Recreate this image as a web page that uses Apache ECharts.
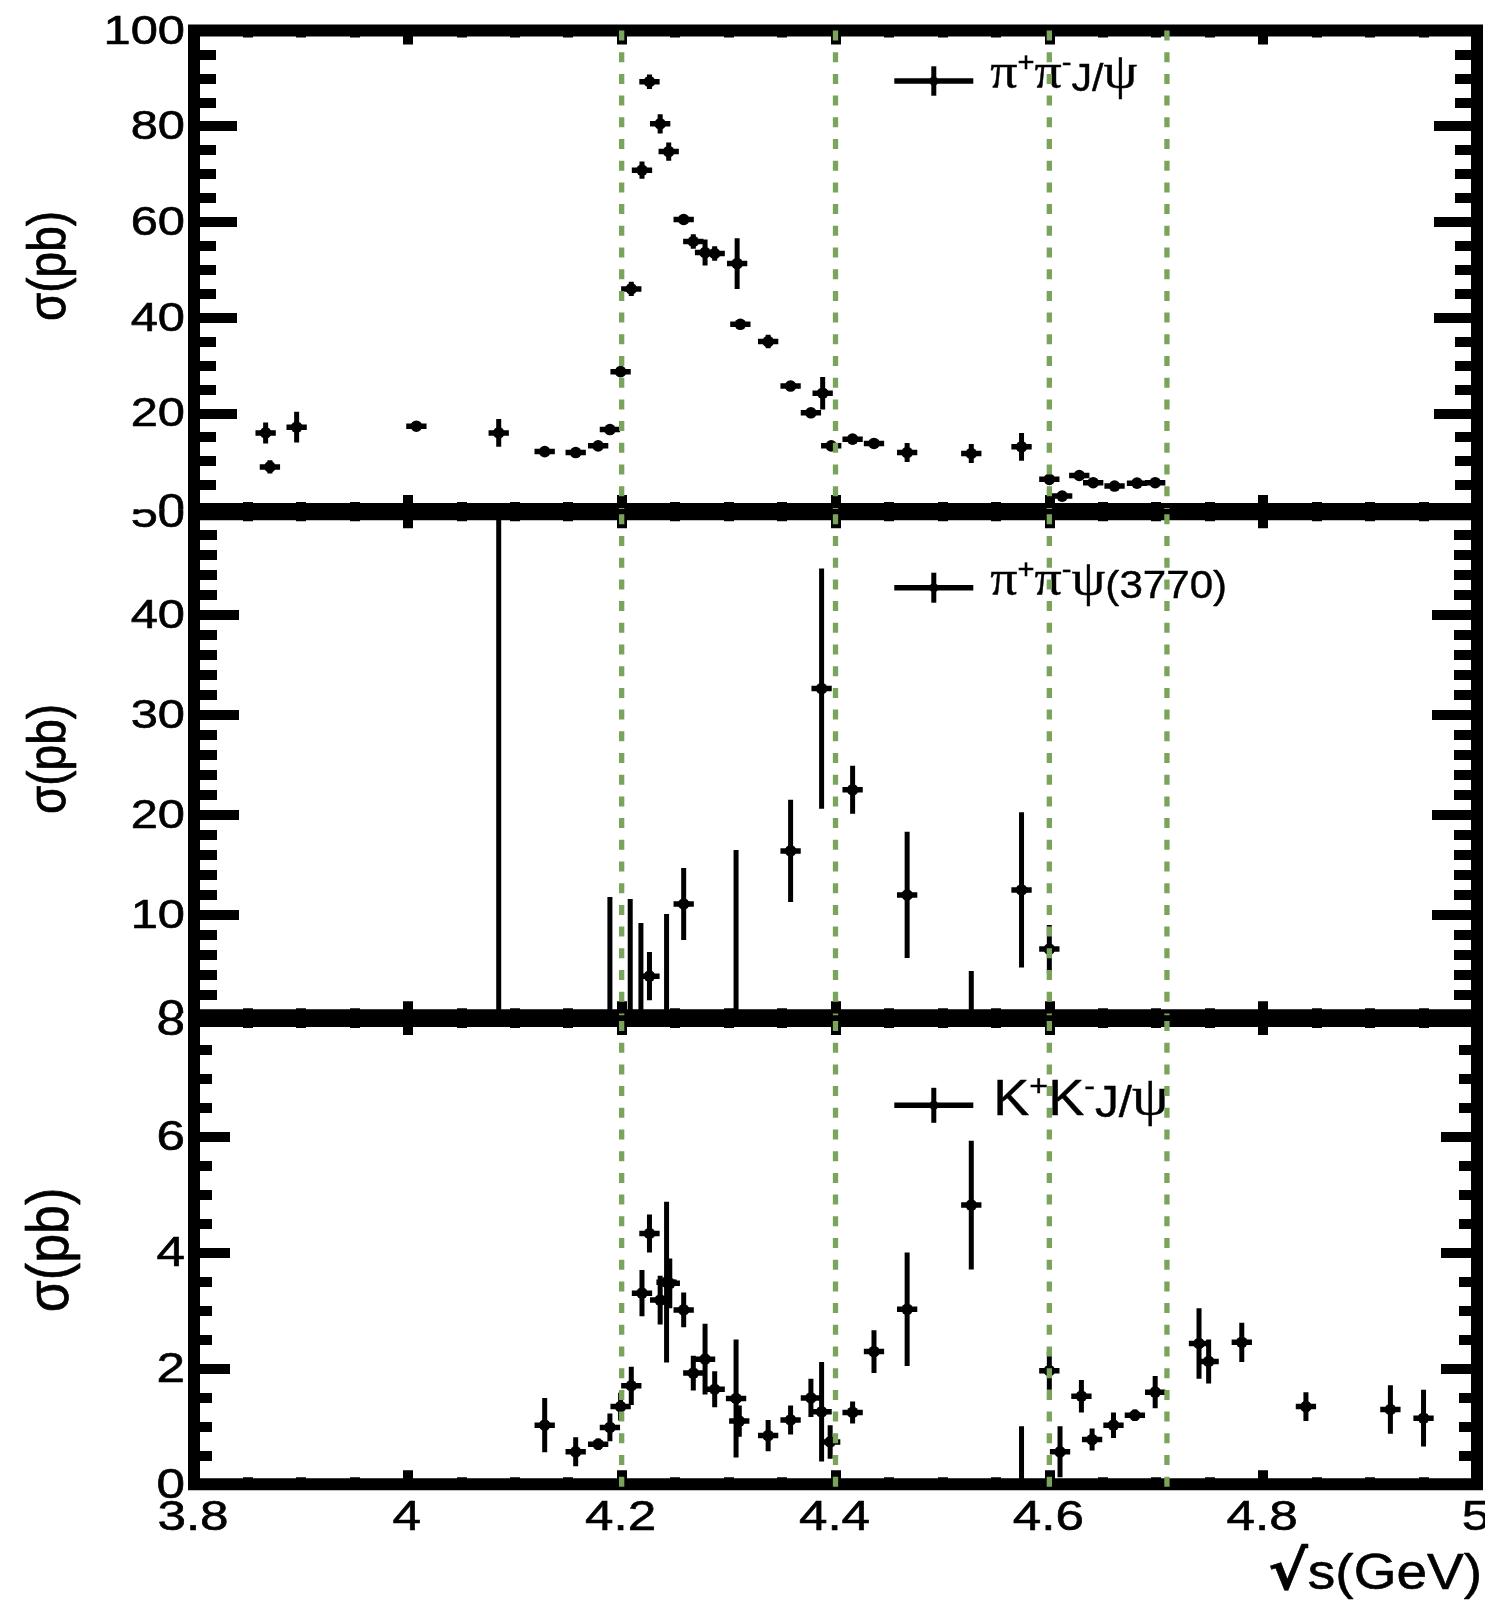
<!DOCTYPE html>
<html>
<head>
<meta charset="utf-8">
<title>Cross sections versus centre-of-mass energy</title>
<script src="https://cdn.jsdelivr.net/npm/echarts@6.0.0/dist/echarts.min.js"></script>
<style>
  html, body { margin: 0; padding: 0; background: #ffffff; }
  #chart { width: 1485px; height: 1602px; }
</style>
</head>
<body>
<div id="chart"></div>
<script>
// ---------------- energy axis ----------------
const energyMin = 3.8;
const energyMax = 5.0;
const energyStep = 0.2;
const energyTicks = [3.8, 4.0, 4.2, 4.4, 4.6, 4.8, 5.0];
const energyTickLabels = ['3.8', '4', '4.2', '4.4', '4.6', '4.8', '5'];
const guideEnergies = [4.2, 4.4, 4.6, 4.71];
const energyHalfWidth = 0.0095;

// ---------------- e+e- -> pi+ pi- J/psi ----------------
const jpsiEnergy = [3.867, 3.871, 3.896, 4.008, 4.085, 4.128, 4.157, 4.178, 4.189, 4.199,
  4.209, 4.219, 4.226, 4.236, 4.244, 4.258, 4.267, 4.278, 4.287, 4.308,
  4.311, 4.337, 4.358, 4.377, 4.388, 4.396, 4.416, 4.436, 4.467, 4.527,
  4.574, 4.600, 4.612, 4.628, 4.641, 4.661, 4.682, 4.699];
const jpsiXsec = [15.9, 8.8, 17.1, 17.3, 15.9, 12.0, 11.8, 13.2, 16.6, 28.7,
  46.0, 70.8, 89.3, 80.5, 74.7, 60.5, 55.9, 53.6, 53.4, 51.3,
  38.6, 35.0, 25.7, 20.1, 24.2, 13.2, 14.6, 13.7, 11.8, 11.6,
  13.0, 6.2, 2.7, 7.0, 5.5, 4.8, 5.4, 5.5];
const jpsiErr = [2.2, 1.4, 3.2, 0.6, 2.9, 0.6, 0.6, 0.7, 0.8, 1.0,
  1.5, 1.8, 1.5, 2.0, 1.9, 1.0, 1.5, 2.7, 1.5, 5.3,
  1.0, 1.4, 1.0, 1.0, 3.4, 0.8, 0.8, 0.8, 2.0, 2.0,
  2.9, 0.9, 0.7, 0.6, 0.5, 0.5, 0.5, 0.5];
const jpsiTicks = [0, 20, 40, 60, 80, 100];

// ---------------- e+e- -> pi+ pi- psi(3770) ----------------
const psi3770Energy = [4.226, 4.258, 4.358, 4.387, 4.416, 4.467, 4.574, 4.600];
const psi3770Xsec = [3.9, 11.1, 16.4, 32.6, 22.5, 12.0, 12.5, 6.6];
const psi3770Err = [2.4, 3.6, 5.1, 12.0, 2.4, 6.3, 7.75, 2.4];
// points shown only as an interval starting at zero
const psi3770BarEnergy = [4.085, 4.189, 4.208, 4.218, 4.242, 4.307, 4.527];
const psi3770BarTop = [58, 11.8, 11.6, 9.2, 10.1, 16.5, 4.4];
const psi3770Ticks = [0, 10, 20, 30, 40, 50];

// ---------------- e+e- -> K+ K- J/psi ----------------
const kkEnergy = [4.128, 4.157, 4.178, 4.189, 4.199, 4.209, 4.219, 4.226, 4.236, 4.242,
  4.245, 4.258, 4.267, 4.278, 4.287, 4.307, 4.310, 4.337, 4.358, 4.377,
  4.387, 4.395, 4.416, 4.436, 4.467, 4.527, 4.600, 4.610, 4.630, 4.640,
  4.660, 4.680, 4.699, 4.740, 4.749, 4.780, 4.840, 4.919, 4.950];
const kkXsec = [1.02, 0.56, 0.69, 0.98, 1.34, 1.70, 3.30, 4.33, 3.18, 3.49,
  3.47, 3.01, 1.92, 2.16, 1.64, 1.48, 1.09, 0.84, 1.11, 1.49,
  1.25, 0.73, 1.24, 2.29, 3.02, 4.82, 1.96, 0.56, 1.52, 0.77,
  1.02, 1.19, 1.59, 2.43, 2.12, 2.45, 1.34, 1.29, 1.14];
const kkErr = [0.47, 0.25, 0.10, 0.24, 0.24, 0.33, 0.40, 0.33, 0.42, 1.39,
  0.43, 0.30, 0.30, 0.61, 0.31, 1.02, 0.27, 0.27, 0.25, 0.33,
  0.86, 0.29, 0.19, 0.37, 0.98, 1.11, 0.33, 0.44, 0.28, 0.19,
  0.22, 0.10, 0.28, 0.61, 0.38, 0.34, 0.25, 0.42, 0.49];
const kkBarEnergy = [4.574];
const kkBarTop = [1.0];
const kkTicks = [0, 2, 4, 6, 8];

const yTitle = 'σ(pb)';
const xTitle = 's(GeV)';

// ---------------- styling ----------------
const SANS = '"Liberation Sans", Arial, Helvetica, sans-serif';
const SERIF = '"Liberation Serif", "DejaVu Serif", serif';
const INK = '#000000';
const GUIDE_GREEN = '#7aa35c';
const TEXT_STRETCH = 1.22;
const TEXT_WEIGHT = 0.6; // outline width that thickens the glyph strokes

const panels = [
  {
    top: 30.5, height: 478.5, yMax: 100, yStep: 20, yMinorSplit: 4,
    majorLen: 43, minorLen: 22, ticks: jpsiTicks, tickFont: 40,
    clipTop: null, clipBottom: 0.5, guideExtend: 0,
    titleX: 50, titleY: 266, titleFont: 46,
    legendLineY: 50.5, legendHalf: 14.7, legendTextDy: -6.4, legendTextX: 96,
    legendText: '{g|π}{s|+}{g|π}{s|-}{r|J/}{g|ψ}',
    legendRich: { g: 50, r: 38, s: 27, k: 38 },
    energy: jpsiEnergy, xsec: jpsiXsec, err: jpsiErr, barEnergy: [], barTop: []
  },
  {
    top: 514.3, height: 500.9, yMax: 50, yStep: 10, yMinorSplit: 5,
    majorLen: 45, minorLen: 23, ticks: psi3770Ticks, tickFont: 40,
    clipTop: -5, clipBottom: -2, guideExtend: 0,
    titleX: 50, titleY: 759, titleFont: 46,
    legendLineY: 73.4, legendHalf: 15, legendTextDy: -6, legendTextX: 96,
    legendText: '{g|π}{s|+}{g|π}{s|-}{g|ψ}{r|(3770)}',
    legendRich: { g: 50, r: 39, s: 27, k: 39 },
    energy: psi3770Energy, xsec: psi3770Xsec, err: psi3770Err,
    barEnergy: psi3770BarEnergy, barTop: psi3770BarTop
  },
  {
    top: 1021, height: 463.2, yMax: 8, yStep: 2, yMinorSplit: 4,
    majorLen: 36, minorLen: 18, ticks: kkTicks, tickFont: 42,
    clipTop: -8, clipBottom: null, guideExtend: 8,
    titleX: 52, titleY: 1250, titleFont: 52,
    legendLineY: 84.3, legendHalf: 17.5, legendTextDy: -5.7, legendTextX: 99,
    legendText: '{k|K}{s|+}{k|K}{s|-}{r|J/}{g|ψ}',
    legendRich: { g: 54, r: 44, s: 30, k: 50 },
    energy: kkEnergy, xsec: kkXsec, err: kkErr, barEnergy: kkBarEnergy, barTop: kkBarTop
  }
];

// ---------------- renderers ----------------
function renderPoint(params, api) {
  const e = api.value(0), v = api.value(1), s = api.value(2);
  const c = api.coord([e, v]);
  const lo = api.coord([e, v - s]);
  const hi = api.coord([e, v + s]);
  const l = api.coord([e - energyHalfWidth, v]);
  const r = api.coord([e + energyHalfWidth, v]);
  return {
    type: 'group',
    children: [
      { type: 'line', shape: { x1: c[0], y1: lo[1], x2: c[0], y2: hi[1] }, style: { stroke: INK, lineWidth: 5 } },
      { type: 'line', shape: { x1: l[0], y1: c[1], x2: r[0], y2: c[1] }, style: { stroke: INK, lineWidth: 5.5 } },
      { type: 'circle', shape: { cx: c[0], cy: c[1], r: 5.8 }, style: { fill: INK } }
    ]
  };
}

function renderBar(params, api) {
  const e = api.value(0);
  const a = api.coord([e, api.value(1)]);
  const b = api.coord([e, api.value(2)]);
  return { type: 'line', shape: { x1: a[0], y1: a[1], x2: b[0], y2: b[1] }, style: { stroke: INK, lineWidth: 5 } };
}

function makeGuideRenderer(p) {
  return function (params, api) {
    const e = api.value(0);
    const a = api.coord([e, p.yMax]);
    const b = api.coord([e, 0]);
    return {
      type: 'line',
      shape: { x1: a[0], y1: a[1], x2: b[0], y2: b[1] + p.guideExtend },
      style: { stroke: GUIDE_GREEN, lineWidth: 5.3, lineDash: [10, 11.7] }
    };
  };
}

function textStyle(text, font, align, vAlign) {
  return {
    text: text, font: font, fill: INK,
    stroke: INK, lineWidth: TEXT_WEIGHT,
    textStroke: INK, textStrokeWidth: TEXT_WEIGHT,
    align: align, verticalAlign: vAlign,
    textAlign: align, textVerticalAlign: vAlign
  };
}

function makeYLabelRenderer(p) {
  return function (params, api) {
    const v = api.value(1);
    const pt = api.coord([api.value(0), v]);
    const top = p.clipTop == null ? -2000 : api.coord([energyMin, p.yMax])[1] + p.clipTop;
    const bottom = p.clipBottom == null ? 4000 : api.coord([energyMin, 0])[1] + p.clipBottom;
    return {
      type: 'group',
      clipPath: { type: 'rect', shape: { x: 0, y: top, width: pt[0], height: bottom - top } },
      children: [{
        type: 'text', x: pt[0] - 9, y: pt[1] + 2, scaleX: TEXT_STRETCH,
        style: textStyle(String(v), p.tickFont + 'px ' + SANS, 'right', 'middle')
      }]
    };
  };
}

function renderXLabel(params, api) {
  const pt = api.coord([api.value(0), api.value(1)]);
  return {
    type: 'text', x: pt[0] - 1, y: pt[1] + 34, scaleX: TEXT_STRETCH,
    style: textStyle(energyTickLabels[params.dataIndex], '42px ' + SANS, 'center', 'middle')
  };
}

// ---------------- option ----------------
const grids = [], xAxes = [], yAxes = [], series = [], graphics = [];

const tickStyle = { color: INK, width: 10 };

panels.forEach(function (p, g) {
  grids.push({
    left: 194, right: 8, top: p.top, height: p.height,
    show: true, borderWidth: 12, borderColor: INK, backgroundColor: 'rgba(0,0,0,0)',
    containLabel: false, outerBoundsMode: 'none'
  });
  ['bottom', 'top'].forEach(function (pos) {
    xAxes.push({
      gridIndex: g, type: 'value', position: pos,
      min: energyMin, max: energyMax, interval: energyStep,
      axisLine: { show: false, onZero: false },
      axisLabel: { show: false }, splitLine: { show: false },
      axisTick: { show: true, inside: true, length: 14, lineStyle: tickStyle },
      minorTick: { show: true, splitNumber: 4, length: 7, lineStyle: tickStyle }
    });
  });
  ['left', 'right'].forEach(function (pos) {
    yAxes.push({
      gridIndex: g, type: 'value', position: pos,
      min: 0, max: p.yMax, interval: p.yStep,
      axisLine: { show: false, onZero: false },
      axisLabel: { show: false }, splitLine: { show: false },
      axisTick: { show: true, inside: true, length: p.majorLen, lineStyle: tickStyle },
      minorTick: { show: true, splitNumber: p.yMinorSplit, length: p.minorLen, lineStyle: tickStyle }
    });
  });

  const axisRef = { xAxisIndex: 2 * g, yAxisIndex: 2 * g, coordinateSystem: 'cartesian2d', silent: true, animation: false };

  series.push(Object.assign({
    type: 'custom', clip: true, z: 5, encode: { x: 0, y: 1 },
    data: p.energy.map(function (e, i) { return [e, p.xsec[i], p.err[i]]; }),
    renderItem: renderPoint
  }, axisRef));

  if (p.barEnergy.length) {
    series.push(Object.assign({
      type: 'custom', clip: true, z: 5, encode: { x: 0, y: 1 },
      data: p.barEnergy.map(function (e, i) { return [e, 0, p.barTop[i]]; }),
      renderItem: renderBar
    }, axisRef));
  }

  series.push(Object.assign({
    type: 'custom', clip: false, z: 30, encode: { x: 0, y: 1 },
    data: guideEnergies.map(function (e) { return [e, 0]; }),
    renderItem: makeGuideRenderer(p)
  }, axisRef));

  series.push(Object.assign({
    type: 'custom', clip: false, z: 3, encode: { x: 0, y: 1 },
    data: p.ticks.map(function (v) { return [energyMin, v]; }),
    renderItem: makeYLabelRenderer(p)
  }, axisRef));

  // axis title, read bottom to top
  graphics.push({
    type: 'text', x: p.titleX, y: p.titleY, rotation: Math.PI / 2, scaleY: 1.15, z: 20,
    style: textStyle(yTitle, p.titleFont + 'px ' + SANS, 'center', 'middle')
  });

  // legend entry: marker with error bars, then the process name
  const lr = p.legendRich;
  const lineY = p.top + p.legendLineY;
  graphics.push({
    type: 'group', x: 894.3, y: lineY, z: 20,
    children: [
      { type: 'line', shape: { x1: 0, y1: 0, x2: 79, y2: 0 }, style: { stroke: INK, lineWidth: 5.5 } },
      { type: 'line', shape: { x1: 39.5, y1: -p.legendHalf, x2: 39.5, y2: p.legendHalf }, style: { stroke: INK, lineWidth: 5 } },
      { type: 'circle', shape: { cx: 39.5, cy: 0, r: 4.5 }, style: { fill: INK } },
      {
        type: 'text', x: p.legendTextX, y: p.legendTextDy, scaleX: 1.08,
        style: {
          text: p.legendText, fill: INK, align: 'left', verticalAlign: 'middle',
          textAlign: 'left', textVerticalAlign: 'middle',
          stroke: INK, lineWidth: 0.4, textStroke: INK, textStrokeWidth: 0.4,
          rich: {
            g: { fontFamily: SERIF, fontSize: lr.g, verticalAlign: 'bottom', textVerticalAlign: 'bottom' },
            r: { fontFamily: SANS, fontSize: lr.r, verticalAlign: 'bottom', textVerticalAlign: 'bottom' },
            k: { fontFamily: SANS, fontSize: lr.k, verticalAlign: 'bottom', textVerticalAlign: 'bottom' },
            s: { fontFamily: SANS, fontSize: lr.s, verticalAlign: 'top', textVerticalAlign: 'top' }
          }
        }
      }
    ]
  });
});

// energy labels under the bottom panel
series.push({
  type: 'custom', xAxisIndex: 4, yAxisIndex: 4, coordinateSystem: 'cartesian2d',
  silent: true, animation: false, clip: false, z: 3, encode: { x: 0, y: 1 },
  data: energyTicks.map(function (e) { return [e, 0]; }),
  renderItem: renderXLabel
});

// x axis title with radical sign
graphics.push({
  type: 'text', x: 1482, y: 1575, scaleX: 1.1, z: 20,
  style: {
    text: '{rad|√}{t|' + xTitle + '}', fill: INK, align: 'right', verticalAlign: 'middle',
    textAlign: 'right', textVerticalAlign: 'middle',
    stroke: INK, lineWidth: TEXT_WEIGHT, textStroke: INK, textStrokeWidth: TEXT_WEIGHT,
    rich: {
      rad: { fontFamily: '"DejaVu Sans", sans-serif', fontWeight: 'bold', fontSize: 54 },
      t: { fontFamily: SANS, fontSize: 50 }
    }
  }
});

const chart = echarts.init(document.getElementById('chart'), null, { renderer: 'canvas' });
chart.setOption({
  animation: false,
  backgroundColor: '#ffffff',
  grid: grids,
  xAxis: xAxes,
  yAxis: yAxes,
  series: series,
  graphic: { elements: graphics }
});
</script>
</body>
</html>
